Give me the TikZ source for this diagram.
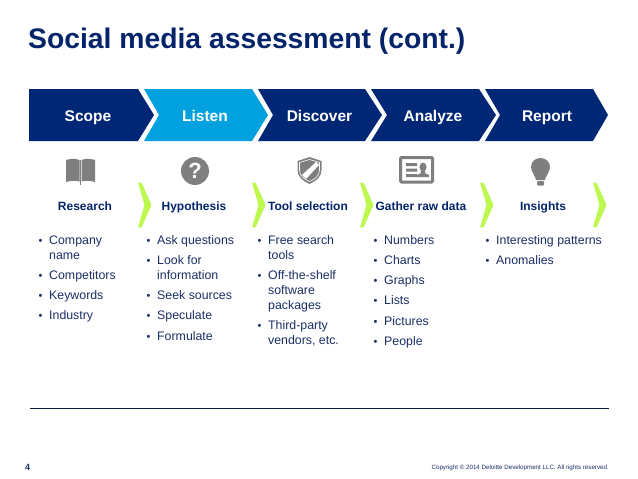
\documentclass[tikz,border=0pt]{standalone}
\usepackage{fontspec}
\setmainfont{Liberation Sans}
\definecolor{navy}{HTML}{002776}
\definecolor{dnavy}{HTML}{04246A}
\definecolor{body}{HTML}{1A2F66}
\definecolor{sky}{HTML}{00A1DE}
\definecolor{lime}{HTML}{BDF84E}
\definecolor{icon}{HTML}{7F7F7F}
\definecolor{rulec}{HTML}{0A1C3C}
\tikzset{
 x=1pt,y=-1pt,
 band/.style={fill=navy,draw=none},
 bandtxt/.style={white,font=\fontsize{15.5}{17}\selectfont\bfseries,inner sep=0pt,anchor=base},
 head/.style={dnavy,font=\fontsize{12}{14}\selectfont\bfseries,inner sep=0pt,anchor=base},
 item/.style={body,font=\fontsize{12.35}{15}\selectfont,inner sep=0pt,anchor=base west},
 dotm/.style={body,font=\fontsize{11}{12}\selectfont,inner sep=0pt,anchor=base west},
 greench/.style={fill=lime,draw=none,rounded corners=1pt},
 ic/.style={fill=icon,draw=none},
}
\newcommand{\greenchev}[1]{\fill[greench,shift={(#1,0)}] (0,182.5)--(3.5,182.5)--(13.5,205)--(3.5,227.5)--(0,227.5)--(6.5,205)--cycle;}
\newcommand{\bul}[3]{\node[dotm] at (#1+1.5,#2) {•}; \node[item] at (#1+12,#2) {#3};}
\newcommand{\cont}[3]{\node[item] at (#1+12,#2) {#3};}
\begin{document}
\begin{tikzpicture}
\useasboundingbox (0,0) rectangle (638,479);
\fill[white] (0,0) rectangle (638,479);
\node[anchor=base west,inner sep=0pt,dnavy,font=\fontsize{28.3}{32}\selectfont\bfseries] (title) at (28,48) {Social media assessment (cont.)};
% band
\fill[band] (29,89)--(138,89)--(154,115)--(138,141)--(29,141)--cycle;
\fill[fill=sky] (144,89)--(252,89)--(268,115)--(252,141)--(144,141)--(159,115)--cycle;
\fill[band] (258,89)--(365,89)--(382,115)--(365,141)--(258,141)--(273,115)--cycle;
\fill[band] (371,89)--(479,89)--(496,115)--(479,141)--(371,141)--(387,115)--cycle;
\fill[band] (485,89)--(593,89)--(608,115)--(593,141)--(485,141)--(500,115)--cycle;
\node[bandtxt] (scope) at (88,121) {Scope};
\node[bandtxt] (listen) at (205,121) {Listen};
\node[bandtxt] (discover) at (319.5,121) {Discover};
\node[bandtxt] (analyze) at (433,121) {Analyze};
\node[bandtxt] (report) at (547,121) {Report};
% icons
\fill[ic] (66,160) .. controls (71,158.5) and (76,158.5) .. (79.5,160) -- (79.5,181.5) .. controls (76,180.5) and (71,180.5) .. (66,182) -- cycle;
\fill[ic] (81.5,160) .. controls (85,158.5) and (90,158.5) .. (95,160) -- (95,182) .. controls (90,180.5) and (85,180.5) .. (81.5,181.5) -- cycle;
\draw[icon,line width=.7pt] (80.5,160)--(80.5,185);
\fill[ic] (195,171) circle (14);
\node[white,font=\fontsize{22}{22}\selectfont\bfseries,inner sep=0pt] (q) at (195,171) {?};
\fill[ic] (309.5,157) -- (321.5,161) -- (321.5,170) .. controls (321.5,177) and (316,181) .. (309.5,184) .. controls (303,181) and (297.5,177) .. (297.5,170) -- (297.5,161) -- cycle;
\draw[white,line width=.6pt] (309.5,159.5) -- (319.5,162.5) -- (319.5,170) .. controls (319.5,176) and (315,179) .. (309.5,181.5) .. controls (304,179) and (299.5,176) .. (299.5,170) -- (299.5,162.5) -- cycle;
\fill[white] (302,175) -- (316,162) -- (319,165) -- (306,179) -- cycle;
\draw[icon,line width=3pt,rounded corners=1pt] (400.5,157.5) rectangle (432.5,182);
\fill[ic] (406,163) rectangle (417,166) (406,168.5) rectangle (417,171.5) (406,174) rectangle (417,177);
\fill[ic] (423,167) ellipse (3.5 and 4.5);
\fill[ic] (421,171) -- (425,171) -- (425.5,173.5) -- (429,175) -- (429,177) -- (417,177) -- (417,175) -- (420.5,173.5) -- cycle;
\fill[ic] (540.5,158) .. controls (546,158) and (550,162) .. (550,167) .. controls (550,172) and (545.5,176) .. (545,180) -- (536,180) .. controls (535.5,176) and (531,172) .. (531,167) .. controls (531,162) and (535,158) .. (540.5,158) -- cycle;
\fill[ic,rounded corners=1pt] (537,181) rectangle (544,185.5);
% green
\greenchev{138}\greenchev{252}\greenchev{360}\greenchev{480}\greenchev{593}
% heads
\node[head] (h1) at (85,210) {Research};
\node[head] (h2) at (194,210) {Hypothesis};
\node[head] (h3) at (308,210) {Tool selection};
\node[head] (h4) at (421,210) {Gather raw data};
\node[head] (h5) at (543,210) {Insights};
% lists
\bul{37}{244}{Company}\cont{37}{259}{name}
\bul{37}{279}{Competitors}
\bul{37}{299}{Keywords}
\bul{37}{319}{Industry}
\bul{145}{244}{Ask questions}
\bul{145}{264}{Look for}\cont{145}{279}{information}
\bul{145}{299}{Seek sources}
\bul{145}{319}{Speculate}
\bul{145}{340}{Formulate}
\bul{256}{244}{Free search}\cont{256}{259}{tools}
\bul{256}{279}{Off-the-shelf}\cont{256}{294}{software}\cont{256}{309}{packages}
\bul{256}{329}{Third-party}\cont{256}{344}{vendors, etc.}
\bul{372}{244}{Numbers}
\bul{372}{264}{Charts}
\bul{372}{284}{Graphs}
\bul{372}{304}{Lists}
\bul{372}{325}{Pictures}
\bul{372}{345}{People}
\bul{484}{244}{Interesting patterns}
\bul{484}{264}{Anomalies}
% rule and footer
\draw[rulec,line width=.9pt] (30,408.5) -- (609,408.5);
\node[anchor=base west,inner sep=0pt,body,font=\fontsize{9}{11}\selectfont\bfseries] (pg) at (25,470) {4};
\node[anchor=base east,inner sep=0pt,body,font=\fontsize{6.2}{8}\selectfont] (copy) at (609,469) {Copyright © 2014 Deloitte Development LLC. All rights reserved.};
\end{tikzpicture}
\end{document}
